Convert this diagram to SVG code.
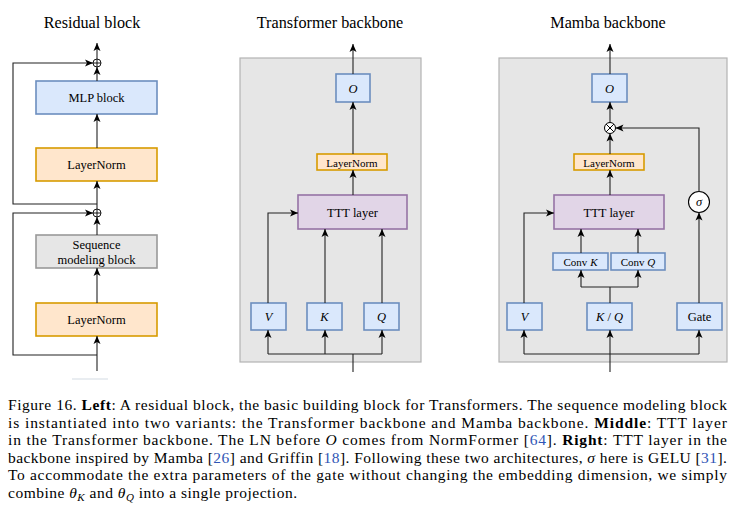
<svg xmlns="http://www.w3.org/2000/svg" width="734" height="506" viewBox="0 0 734 506">
<defs>
<marker id="arr" markerUnits="userSpaceOnUse" markerWidth="9" markerHeight="8" refX="8" refY="4" orient="auto">
<path d="M0,0.5 L8,4 L0,7.5 L2,4 Z" fill="#000"/>
</marker>
<style>
text{font-family:'Liberation Serif','Times New Roman','DejaVu Serif',serif;fill:#000;}
.title{font-size:16.2px;text-anchor:middle;}
.lbl{font-size:12.5px;text-anchor:middle;dominant-baseline:central;}
.sm{font-size:11px;text-anchor:middle;dominant-baseline:central;}
.sig{font-size:12.5px;text-anchor:middle;dominant-baseline:central;}
.it{font-style:italic;}
.blue{fill:#dae8fc;stroke:#6c8ebf;stroke-width:1.6;}
.orange{fill:#ffe6cc;stroke:#d79b00;stroke-width:1.6;}
.gray{fill:#e6e6e6;stroke:#999;stroke-width:1.6;}
.purple{fill:#e1d5e7;stroke:#9673a6;stroke-width:1.6;}
.panel{fill:#e6e6e6;stroke:#b3b3b3;stroke-width:1.2;}
.ln{fill:none;stroke:#222;stroke-width:1.1;}
.a{marker-end:url(#arr);}
.cap{font-size:15.5px;}
.cite{fill:#2f55b5;}
</style>
</defs>
<rect width="734" height="506" fill="#fff"/>

<g font-family="Liberation Serif, serif">
<!-- titles -->
<text class="title" x="92" y="28">Residual block</text>
<text class="title" x="330" y="28">Transformer backbone</text>
<text class="title" x="608" y="28">Mamba backbone</text>

<!-- panels -->
<rect class="panel" x="240" y="58" width="181" height="304"/>
<rect class="panel" x="499" y="58" width="228" height="304"/>

<!-- Left nodes -->
<g id="mlp"><rect class="blue" x="36" y="81" width="121" height="33"/><text class="lbl" x="96.5" y="98">MLP block</text></g>
<g id="ln1"><rect class="orange" x="36" y="148" width="121" height="33"/><text class="lbl" x="96.5" y="165">LayerNorm</text></g>
<g id="seq"><rect class="gray" x="36" y="235" width="121" height="33"/><text class="lbl" x="96.5" y="244.5">Sequence</text><text class="lbl" x="96.5" y="259.5">modeling block</text></g>
<g id="ln2"><rect class="orange" x="36" y="303" width="121" height="33"/><text class="lbl" x="96.5" y="320">LayerNorm</text></g>
<g id="add1"><circle cx="97" cy="63" r="4" fill="#fff" stroke="#000" stroke-width="0.9"/><path d="M93,63 H101 M97,59 V67" stroke="#000" stroke-width="0.9"/></g>
<g id="add2"><circle cx="97" cy="213" r="4" fill="#fff" stroke="#000" stroke-width="0.9"/><path d="M93,213 H101 M97,209 V217" stroke="#000" stroke-width="0.9"/></g>
<line x1="72" y1="379" x2="108" y2="379" stroke="#d3dbe3" stroke-width="1"/>

<!-- Middle nodes -->
<g id="m_o"><rect class="blue" x="336" y="74" width="34" height="28"/><text class="lbl it" x="353" y="88.5">O</text></g>
<g id="m_ln"><rect class="orange" x="317" y="154" width="70" height="16"/><text class="sm" x="352" y="162.5">LayerNorm</text></g>
<g id="m_ttt"><rect class="purple" x="298" y="195" width="109" height="34"/><text class="lbl" x="352.5" y="212.5">TTT layer</text></g>
<g id="m_v"><rect class="blue" x="251" y="303" width="35" height="27"/><text class="lbl it" x="268.5" y="317">V</text></g>
<g id="m_k"><rect class="blue" x="307" y="303" width="35" height="27"/><text class="lbl it" x="324.5" y="317">K</text></g>
<g id="m_q"><rect class="blue" x="364" y="303" width="35" height="27"/><text class="lbl it" x="381.5" y="317">Q</text></g>

<!-- Right nodes -->
<g id="r_o"><rect class="blue" x="592" y="74" width="35" height="28"/><text class="lbl it" x="609.5" y="88.5">O</text></g>
<g id="r_mul"><circle cx="610" cy="128" r="5.5" fill="#fff" stroke="#000" stroke-width="1"/><path d="M606.1,124.1 L613.9,131.9 M613.9,124.1 L606.1,131.9" stroke="#000" stroke-width="1"/></g>
<g id="r_ln"><rect class="orange" x="574" y="154" width="70" height="16"/><text class="sm" x="609" y="162.5">LayerNorm</text></g>
<g id="r_ttt"><rect class="purple" x="554" y="195" width="110" height="34"/><text class="lbl" x="609" y="212.5">TTT layer</text></g>
<g id="r_convk"><rect class="blue" x="553" y="253" width="55" height="17"/><text class="sm" x="580.5" y="262">Conv <tspan class="it">K</tspan></text></g>
<g id="r_convq"><rect class="blue" x="611" y="253" width="54" height="17"/><text class="sm" x="638" y="262">Conv <tspan class="it">Q</tspan></text></g>
<g id="r_v"><rect class="blue" x="507" y="303" width="35" height="27"/><text class="lbl it" x="524.5" y="317">V</text></g>
<g id="r_kq"><rect class="blue" x="587" y="303" width="45" height="27"/><text class="lbl" x="609.5" y="317"><tspan class="it">K</tspan> / <tspan class="it">Q</tspan></text></g>
<g id="r_gate"><rect class="blue" x="677" y="303" width="45" height="27"/><text class="lbl" x="699.5" y="317">Gate</text></g>
<g id="r_sigma"><circle cx="699" cy="202" r="10.5" fill="#fff" stroke="#000" stroke-width="1.1"/><text class="sig it" x="699" y="201.5">σ</text></g>

<!-- connectors -->
<g id="connectors">
<path class="ln a" d="M97,59 V43"/>
<path class="ln a" d="M97,81 V67"/>
<path class="ln a" d="M97,148 V114"/>
<path class="ln a" d="M97,209 V181"/>
<path class="ln a" d="M97,235 V217"/>
<path class="ln a" d="M97,303 V268"/>
<path class="ln a" d="M97,371 V336"/>
<path class="ln a" d="M97,204 H13 V63 H93"/>
<path class="ln a" d="M97,355 H13 V213 H93"/>
<path class="ln a" d="M353,74 V44"/>
<path class="ln a" d="M353,154 V102"/>
<path class="ln a" d="M353,195 V170"/>
<path class="ln a" d="M268,303 V213 H298"/>
<path class="ln a" d="M325,303 V229"/>
<path class="ln a" d="M382,303 V229"/>
<path class="ln" d="M268,354 H382 M353,372 V354"/>
<path class="ln a" d="M268,354 V330"/>
<path class="ln a" d="M325,354 V330"/>
<path class="ln a" d="M382,354 V330"/>
<path class="ln a" d="M610,74 V44"/>
<path class="ln a" d="M610,122.5 V102"/>
<path class="ln a" d="M610,154 V133.5"/>
<path class="ln a" d="M610,195 V170"/>
<path class="ln a" d="M581,253 V229"/>
<path class="ln a" d="M638,253 V229"/>
<path class="ln" d="M610,303 V287 M581,287 H638"/>
<path class="ln a" d="M581,287 V270"/>
<path class="ln a" d="M638,287 V270"/>
<path class="ln a" d="M524,303 V213 H554"/>
<path class="ln a" d="M699,303 V212.5"/>
<path class="ln a" d="M699,191.5 V128 H615.5"/>
<path class="ln" d="M524,354 H699"/>
<path class="ln a" d="M524,354 V330"/>
<path class="ln a" d="M699,354 V330"/>
<path class="ln a" d="M610,372 V330"/>
</g>

<!-- caption -->
<g id="caption" class="cap">
<text class="cap" x="8" y="410" textLength="719" lengthAdjust="spacing">Figure 16. <tspan font-weight="bold">Left</tspan>: A residual block, the basic building block for Transformers. The sequence modeling block</text>
<text class="cap" x="8" y="427.6" textLength="719" lengthAdjust="spacing">is instantiated into two variants: the Transformer backbone and Mamba backbone. <tspan font-weight="bold">Middle</tspan>: TTT layer</text>
<text class="cap" x="8" y="445.2" textLength="719" lengthAdjust="spacing">in the Transformer backbone. The LN before <tspan font-style="italic">O</tspan> comes from NormFormer [<tspan class="cite">64</tspan>]. <tspan font-weight="bold">Right</tspan>: TTT layer in the</text>
<text class="cap" x="8" y="462.8" textLength="719" lengthAdjust="spacing">backbone inspired by Mamba [<tspan class="cite">26</tspan>] and Griffin [<tspan class="cite">18</tspan>]. Following these two architectures, <tspan font-style="italic">σ</tspan> here is GELU [<tspan class="cite">31</tspan>].</text>
<text class="cap" x="8" y="480.4" textLength="719" lengthAdjust="spacing">To accommodate the extra parameters of the gate without changing the embedding dimension, we simply</text>
<text class="cap" x="8" y="498" textLength="289" lengthAdjust="spacing">combine <tspan font-style="italic">θ</tspan><tspan font-style="italic" font-size="11" dy="3">K</tspan><tspan dy="-3"> and </tspan><tspan font-style="italic">θ</tspan><tspan font-style="italic" font-size="11" dy="3">Q</tspan><tspan dy="-3"> into a single projection.</tspan></text>
</g>
</g>
</svg>
